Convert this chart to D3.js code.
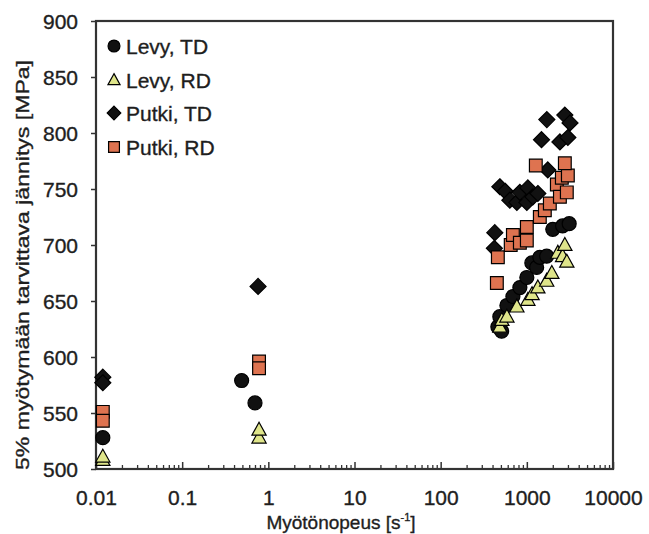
<!DOCTYPE html>
<html>
<head>
<meta charset="utf-8">
<script src="https://cdn.jsdelivr.net/npm/d3@7"></script>
<style>
  html, body { margin: 0; padding: 0; background: #fff; }
  svg { display: block; }
  text { font-family: Arial, "Liberation Sans", Helvetica, sans-serif; fill: #1e1e1e; stroke: #1e1e1e; stroke-width: 0.35px; }
</style>
</head>
<body>
<svg id="chart" width="649" height="534"></svg>
<script>
// Strain rate [1/s] and 5 % yield stress [MPa] per series
const levyTD_rate   = [0.012, 0.49, 0.70, 461, 486, 587, 689, 830, 1000, 1143, 1300, 1415, 1700, 2000, 2600, 3100, 510];
const levyTD_stress = [528,   579,  559,  627, 636, 646, 654, 662, 671,  684,  680,  689,  690,  714,  717,  719,  623];

const levyRD_rate   = [0.012, 0.012, 0.78, 0.78, 486, 513, 587, 766, 1028, 1150, 1342, 1700, 1950, 2291, 2600, 2761, 2911];
const levyRD_stress = [508,   511,   528,  535,  627, 633, 636, 645, 651,  656,  662,  668,  675,  693,  690,  700,  685];

const putkiTD_rate   = [0.012, 0.012, 0.76, 420, 425, 486, 560, 635, 766, 830, 1000, 1028, 1175, 1342, 1480, 1707, 1750, 2420, 2761, 2992, 3170];
const putkiTD_stress = [582,   577,   663,  697, 711, 752, 748, 740, 738, 747, 738,  751,  743,  746,  794,  812,  767,  792,  816,  796,  809];

const putkiRD_rate   = [0.012, 0.012, 0.78, 0.78, 449, 461, 650, 689, 830, 1000, 1000, 1415, 1618, 1849, 2230, 2420, 2548, 2911, 2992, 1271, 2761];
const putkiRD_stress = [551,   543,   596,  590,  666, 689, 700, 709, 702, 716,  704,  725,  731,  737,  754,  743,  760,  747,  762,  771,  773];

const xTickValues = [0.01, 0.1, 1, 10, 100, 1000, 10000];
const xTickLabels = ["0.01", "0.1", "1", "10", "100", "1000", "10000"];
const yTickValues = [500, 550, 600, 650, 700, 750, 800, 850, 900];

const seriesNames = ["Levy, TD", "Levy, RD", "Putki, TD", "Putki, RD"];

const series = [
  { name: seriesNames[0], rate: levyTD_rate,  stress: levyTD_stress,  shape: "circle" },
  { name: seriesNames[1], rate: levyRD_rate,  stress: levyRD_stress,  shape: "triangle" },
  { name: seriesNames[2], rate: putkiTD_rate, stress: putkiTD_stress, shape: "diamond" },
  { name: seriesNames[3], rate: putkiRD_rate, stress: putkiRD_stress, shape: "square" }
];

const svg = d3.select("#chart");
const plotLeft = 96, plotRight = 613, plotTop = 21, plotBottom = 469;

const x = d3.scaleLog().domain([0.01, 10000]).range([plotLeft, plotRight]);
const y = d3.scaleLinear().domain([500, 900]).range([plotBottom, plotTop]);

// marker paths centred on the origin
const markerPath = {
  circle:   r => d3.symbol(d3.symbolCircle, Math.PI * r * r)(),
  triangle: r => `M0,${-r}L${r * 0.95},${r * 0.72}L${-r * 0.95},${r * 0.72}Z`,
  diamond:  r => `M0,${-r}L${r},0L0,${r}L${-r},0Z`,
  square:   r => `M${-r * 0.85},${-r * 0.85}H${r * 0.85}V${r * 0.85}H${-r * 0.85}Z`
};
const markerStyle = {
  circle:   { fill: "#111", size: 7 },
  triangle: { fill: "#dfe58a", size: 7.5 },
  diamond:  { fill: "#111", size: 8 },
  square:   { fill: "#de7350", size: 7.5 }
};

// x ticks: minor (every 1..9 multiple) and major decades, pointing into the plot
svg.append("g")
  .attr("transform", `translate(0,${plotBottom})`)
  .call(d3.axisBottom(x).tickValues(x.ticks().filter(v => !xTickValues.includes(v)))
    .tickSize(-4).tickFormat(""))
  .call(g => g.select(".domain").remove())
  .call(g => g.selectAll("line").attr("stroke", "#333").attr("stroke-width", 1.3));

svg.append("g")
  .attr("transform", `translate(0,${plotBottom})`)
  .call(d3.axisBottom(x).tickValues(xTickValues).tickSize(-7).tickPadding(0)
    .tickFormat((d, i) => xTickLabels[i]))
  .call(g => g.select(".domain").remove())
  .call(g => g.selectAll("line").attr("stroke", "#333").attr("stroke-width", 1.5))
  .call(g => g.selectAll("text").attr("y", 36).attr("dy", 0)
    .style("font-size", "21px").attr("fill", "#1e1e1e"));

// y ticks outside the frame
svg.append("g")
  .attr("transform", `translate(${plotLeft},0)`)
  .call(d3.axisLeft(y).tickValues(yTickValues).tickSize(5).tickPadding(13))
  .call(g => g.select(".domain").remove())
  .call(g => g.selectAll("line").attr("stroke", "#333").attr("stroke-width", 1.5))
  .call(g => g.selectAll("text").attr("dy", "0.36em")
    .style("font-size", "21px").attr("fill", "#1e1e1e"));

// plot frame
svg.append("rect")
  .attr("x", plotLeft).attr("y", plotTop)
  .attr("width", plotRight - plotLeft).attr("height", plotBottom - plotTop)
  .attr("fill", "none").attr("stroke", "#333").attr("stroke-width", 2.2);

// data markers
const plot = svg.append("g");
series.forEach(s => {
  const st = markerStyle[s.shape];
  plot.append("g").selectAll("path")
    .data(s.rate.map((r, i) => ({ r, v: s.stress[i] })))
    .join("path")
    .attr("transform", d => `translate(${x(d.r)},${y(d.v)})`)
    .attr("d", markerPath[s.shape](st.size))
    .attr("fill", st.fill)
    .attr("stroke", "#000")
    .attr("stroke-width", 1.2);
});

// legend
const legendRows = [46, 80, 113, 147];
const legend = svg.append("g");
series.forEach((s, i) => {
  const st = markerStyle[s.shape];
  legend.append("path")
    .attr("transform", `translate(114,${legendRows[i]})`)
    .attr("d", markerPath[s.shape](st.size * 0.85))
    .attr("fill", st.fill).attr("stroke", "#000").attr("stroke-width", 1.2);
  legend.append("text")
    .attr("x", 126).attr("y", legendRows[i]).attr("dy", "0.36em")
    .style("font-size", "21px")
    .text(s.name);
});

// axis titles
svg.append("text")
  .attr("transform", "translate(29,265) rotate(-90)")
  .attr("text-anchor", "middle")
  .attr("textLength", 410).attr("lengthAdjust", "spacingAndGlyphs")
  .style("font-size", "19px")
  .text("5% myötymään tarvittava jännitys [MPa]");

const xTitle = svg.append("text")
  .attr("x", 341).attr("y", 529)
  .attr("text-anchor", "middle")
  .style("font-size", "19px");
xTitle.append("tspan").text("Myötönopeus [s");
xTitle.append("tspan").attr("dy", -8).style("font-size", "11px").text("-1");
xTitle.append("tspan").attr("dy", 8).text("]");
</script>
</body>
</html>
